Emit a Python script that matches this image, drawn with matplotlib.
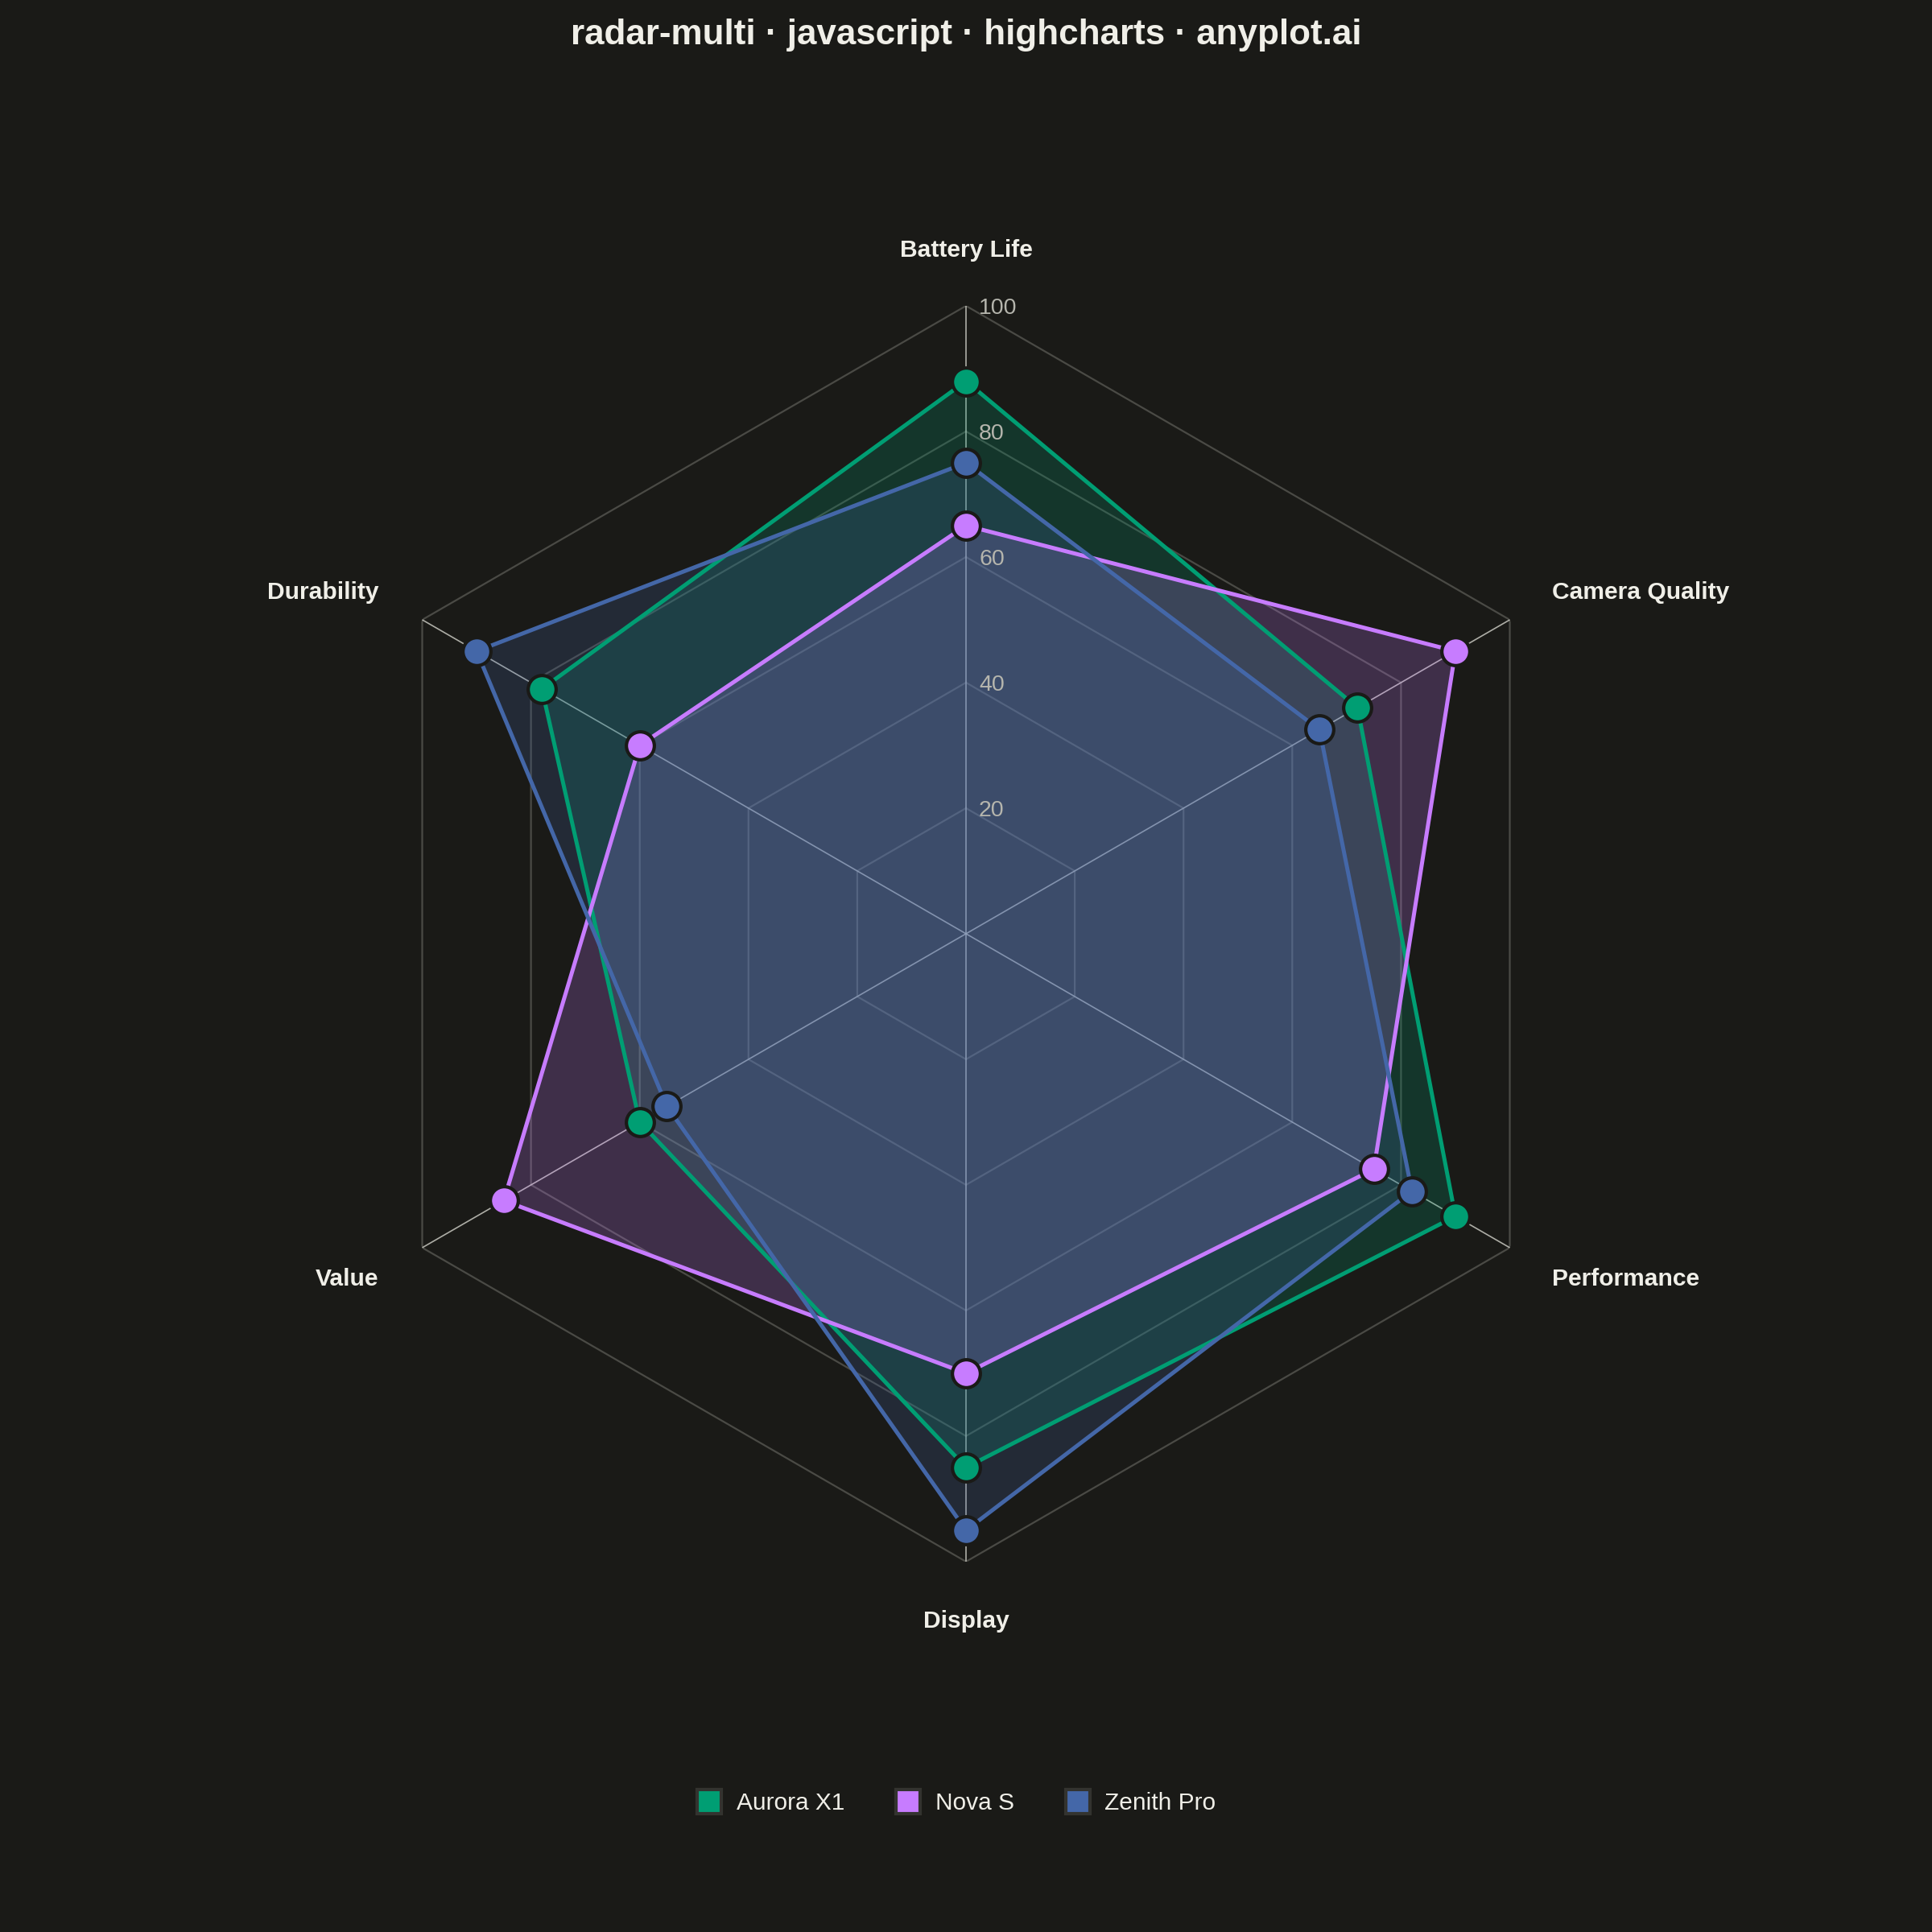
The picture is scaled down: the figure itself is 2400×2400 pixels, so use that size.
import numpy as np
import matplotlib
matplotlib.use("Agg")
import matplotlib.pyplot as plt
from matplotlib.lines import Line2D

categories = ["Battery Life", "Camera Quality", "Performance", "Display", "Value", "Durability"]
series_names = ["Aurora X1", "Nova S", "Zenith Pro"]
aurora = [88, 72, 90, 85, 60, 78]
nova = [65, 90, 75, 70, 85, 60]
zenith = [75, 65, 82, 95, 55, 90]
ticks = [20, 40, 60, 80, 100]
colors = ["#009E73", "#C77CFF", "#4467A8"]

BG = "#1A1A17"
plt.rcParams['font.family'] = ['Liberation Sans', 'DejaVu Sans']

fig = plt.figure(figsize=(24, 24), dpi=100, facecolor=BG)
ax = fig.add_axes([0.175, 0.1917, 0.65, 0.65], projection='polar', facecolor='none')
ax.set_theta_offset(np.pi / 2)
ax.set_theta_direction(-1)
ax.set_ylim(0, 100)
ax.grid(False)
ax.spines['polar'].set_visible(False)
ax.set_xticks([])
ax.set_yticks([])

n = len(categories)
angles = np.arange(n) * 2 * np.pi / n
closed = np.append(angles, angles[0])

# polygon gridlines
for t in ticks:
    ax.plot(closed, [t] * (n + 1), color="#4a4a45", lw=1.6, zorder=1)
# spokes
for a in angles:
    ax.plot([a, a], [0, 100], color="#c8c8c0", lw=1.2, alpha=0.85, zorder=1)

# tick labels
for t in ticks:
    ax.annotate(str(t), xy=(0, t), xytext=(16, -3), textcoords='offset pixels',
                ha='left', va='center', fontsize=20.5, color="#b5b5ad", zorder=6)

# category labels
offsets = [(0, 69, 'center', 'center'), (53, 34, 'left', 'center'), (53, -39, 'left', 'center'),
           (0, -74, 'center', 'center'), (-54, -39, 'right', 'center'), (-54, 34, 'right', 'center')]
for a, cat, (dx, dy, ha, va) in zip(angles, categories, offsets):
    ax.annotate(cat, xy=(a, 100), xytext=(dx, dy), textcoords='offset pixels',
                ha=ha, va=va, fontsize=21.6, fontweight='bold', color="#F0EFE8")

data = [aurora, nova, zenith]
for i, (vals, c) in enumerate(zip(data, colors)):
    v = np.append(vals, vals[0])
    ax.fill(closed, v, color=c, alpha=0.22, lw=0, zorder=2 + i)
    ax.plot(closed, v, color=c, lw=3.6, zorder=5 + i * 0.1)
    ax.plot(angles, vals, ls='none', marker='o', markersize=25, markerfacecolor=c,
            markeredgecolor="#1A1A17", markeredgewidth=3.0, zorder=5.05 + i * 0.1)

fig.text(0.5, 1 - 43 / 2400, "radar-multi · javascript · highcharts · anyplot.ai",
         ha='center', va='center', fontsize=31.7, fontweight='bold', color="#F0EFE8")

handles = [Line2D([], [], ls='none', marker='s', markersize=22, markerfacecolor=c,
                  markeredgecolor="#33332f", markeredgewidth=3.0) for c in colors]
leg = fig.legend(handles, series_names, loc='center', bbox_to_anchor=(0.4952, 1 - 2240 / 2400),
                 ncol=3, frameon=False, fontsize=21.5, labelcolor="#F0EFE8",
                 handletextpad=0.62, columnspacing=2.15, handlelength=1.0)

fig.savefig("out.png", dpi=100, facecolor=BG)
